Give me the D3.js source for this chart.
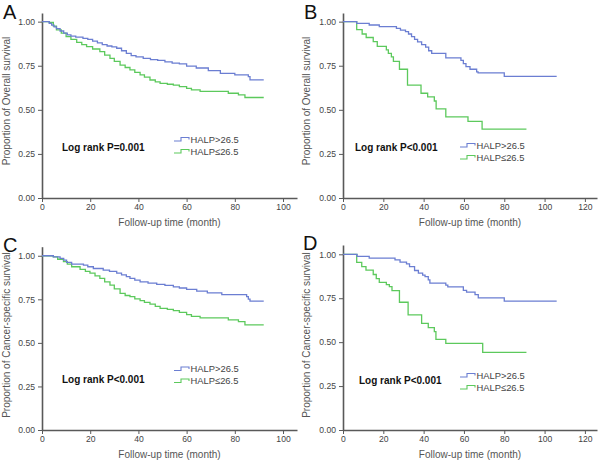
<!DOCTYPE html>
<html>
<head>
<meta charset="utf-8">
<script src="https://cdn.jsdelivr.net/npm/d3@7"></script>
<style>
  body { margin: 0; background: #fff; }
  svg { display: block; }
</style>
</head>
<body>
<svg id="chart" width="600" height="467"></svg>
<script>
// ---- data: [month, survival proportion] ----
var osHigh = [[0,1],[3,0.99],[4,0.98],[5,0.97],[6,0.96],[7.5,0.947],[9,0.935],[10.5,0.925],[12,0.918],[14,0.912],[17,0.905],[19,0.9],[21,0.89],[23,0.88],[25,0.87],[27,0.862],[29,0.857],[31,0.849],[33,0.835],[35,0.82],[37,0.807],[39,0.8],[42,0.792],[45,0.785],[48,0.78],[51,0.772],[54,0.765],[57,0.76],[60,0.748],[64,0.737],[69,0.722],[74,0.707],[80,0.698],[85.6,0.688],[86.3,0.67],[92,0.67]];
var osLow = [[0,1],[3,0.995],[4.7,0.975],[6,0.953],[8,0.935],[10,0.915],[12,0.9],[14.4,0.883],[16.5,0.87],[18.5,0.858],[21,0.845],[24,0.83],[26,0.81],[28.2,0.792],[30,0.775],[32.4,0.754],[34.5,0.74],[36.5,0.726],[38.5,0.712],[40.7,0.698],[42.5,0.685],[44.8,0.669],[47,0.658],[49,0.65],[52,0.645],[54.5,0.64],[57,0.632],[60,0.622],[62,0.613],[65.6,0.605],[77.3,0.594],[81.5,0.585],[84.2,0.57],[92,0.57]];

var osHighB = [[0,1],[6.8,0.99],[13,0.981],[18,0.972],[26.5,0.962],[28.5,0.952],[31,0.943],[32.5,0.93],[34,0.915],[35.5,0.9],[37,0.885],[39,0.87],[41,0.855],[42.5,0.835],[44,0.82],[51,0.795],[58.5,0.78],[59.7,0.762],[61,0.745],[63,0.73],[66.3,0.715],[67,0.71],[80,0.69],[106,0.69]];
var osLowB = [[0,1],[6.8,0.955],[9.5,0.93],[11.5,0.91],[15,0.887],[17,0.86],[21.5,0.84],[22.5,0.82],[24,0.8],[25,0.775],[28,0.73],[32,0.64],[38.7,0.594],[42,0.573],[45.3,0.55],[46.2,0.505],[51,0.46],[62,0.435],[69,0.39],[91,0.39]];

var cssHigh = [[0,1],[4.7,0.994],[7.5,0.985],[9,0.975],[10.2,0.962],[12.3,0.952],[17.2,0.946],[19,0.937],[21.3,0.927],[25.4,0.918],[28,0.91],[31,0.9],[33,0.89],[35,0.88],[36.5,0.87],[38.5,0.86],[40.7,0.85],[44,0.843],[47.6,0.836],[51,0.83],[54.5,0.822],[57,0.815],[60,0.807],[64.2,0.797],[68.6,0.787],[74.6,0.777],[84.9,0.765],[85.6,0.751],[86.3,0.74],[92,0.74]];
var cssLow = [[0,1],[4.7,0.994],[6.5,0.98],[8.9,0.966],[10.5,0.952],[12.3,0.937],[15.8,0.922],[18,0.91],[19.9,0.9],[22,0.885],[24,0.87],[26,0.85],[28.2,0.832],[30,0.81],[32.4,0.784],[34.5,0.772],[36.5,0.765],[38.5,0.752],[40.7,0.742],[42.5,0.732],[44.8,0.723],[47,0.71],[49,0.698],[52,0.692],[54.5,0.685],[57,0.675],[60,0.662],[62,0.652],[65.6,0.643],[77.3,0.632],[81.5,0.622],[84.2,0.603],[92,0.603]];

var cssHighD = [[0,1],[7,0.988],[13,0.978],[25.8,0.968],[28.3,0.955],[31.5,0.945],[33,0.93],[35.5,0.908],[37.4,0.893],[39.5,0.882],[40.7,0.873],[42.3,0.854],[43.1,0.836],[51,0.825],[52,0.815],[59.7,0.795],[61.3,0.785],[65.5,0.77],[67.1,0.752],[80,0.733],[106,0.733]];
var cssLowD = [[0,1],[6.8,0.954],[9.3,0.93],[11.4,0.91],[15,0.885],[16.5,0.862],[18,0.84],[21.5,0.827],[23,0.816],[24.3,0.793],[28,0.727],[32.3,0.655],[39,0.607],[42.3,0.583],[45.3,0.56],[46.1,0.516],[51,0.493],[69.3,0.442],[91,0.442]];

var xTicks100 = [0, 20, 40, 60, 80, 100];
var xTicks120 = [0, 20, 40, 60, 80, 100, 120];
var yTicks = [0, 0.25, 0.5, 0.75, 1];
var groupNames = ["HALP>26.5", "HALP\u226426.5"];
var pValues = ["Log rank P=0.001", "Log rank P<0.001", "Log rank P<0.001", "Log rank P<0.001"];

var colHigh = "#6b7ed2", colLow = "#5cc95c";
var axisCol = "#595959";
var font = "'Liberation Sans', Arial, sans-serif";

var svg = d3.select("#chart");

// panel layout (pixel boxes)
var panels = [
  { letter: "A", lx: 3, ly: 18.5, x0: 42, x1: 297, xMax: 105.8, xTicks: xTicks100, y0: 198, y1: 13, yMax: 1.049,
    ytitle: "Proportion of Overall survival", ytx: 10, yty: 101, xty: 226,
    high: osHigh, low: osLow, p: pValues[0], px: 62, py: 150.5, legx: 174, legy: 142.5 },
  { letter: "B", lx: 304, ly: 18.5, x0: 343, x1: 597, xMax: 126, xTicks: xTicks120, y0: 198, y1: 13, yMax: 1.049,
    ytitle: "Proportion of Overall survival", ytx: 310, yty: 101, xty: 226,
    high: osHighB, low: osLowB, p: pValues[1], px: 355, py: 150.5, legx: 460, legy: 148.5 },
  { letter: "C", lx: 3, ly: 251.5, x0: 42, x1: 297, xMax: 105.8, xTicks: xTicks100, y0: 430, y1: 246.7, yMax: 1.052,
    ytitle: "Proportion of Cancer-specific survival", ytx: 10, yty: 335, xty: 458,
    high: cssHigh, low: cssLow, p: pValues[2], px: 62, py: 382.5, legx: 174, legy: 372 },
  { letter: "D", lx: 303, ly: 250, x0: 343, x1: 597, xMax: 126, xTicks: xTicks120, y0: 430, y1: 245, yMax: 1.053,
    ytitle: "Proportion of Cancer-specific survival", ytx: 310, yty: 335, xty: 458,
    high: cssHighD, low: cssLowD, p: pValues[3], px: 359, py: 384, legx: 460, legy: 378.5 }
];

panels.forEach(function(c) {
  var x = d3.scaleLinear().domain([0, c.xMax]).range([c.x0, c.x1]);
  var y = d3.scaleLinear().domain([0, c.yMax]).range([c.y0, c.y1]);
  var g = svg.append("g");

  // axes
  var gx = g.append("g").attr("transform", "translate(0," + c.y0 + ")")
    .call(d3.axisBottom(x).tickValues(c.xTicks).tickSize(4).tickSizeOuter(0).tickPadding(2)
      .tickFormat(d3.format("d")));
  var gy = g.append("g").attr("transform", "translate(" + c.x0 + ",0)")
    .call(d3.axisLeft(y).tickValues(yTicks).tickSize(4).tickSizeOuter(0).tickPadding(3)
      .tickFormat(d3.format(".2f")));
  [gx, gy].forEach(function(a) {
    a.select(".domain").attr("stroke", axisCol).attr("stroke-width", 1.6);
    a.selectAll(".tick line").attr("stroke", axisCol).attr("stroke-width", 1);
    a.selectAll(".tick text").attr("fill", "#444").style("font-family", font).style("font-size", "8.6px");
  });

  // titles
  g.append("text").attr("x", (c.x0 + c.x1) / 2).attr("y", c.xty)
    .attr("text-anchor", "middle").attr("fill", "#555")
    .style("font-family", font).style("font-size", "10px")
    .text("Follow-up time (month)");
  g.append("text").attr("transform", "translate(" + c.ytx + "," + c.yty + ") rotate(-90)")
    .attr("text-anchor", "middle").attr("fill", "#555")
    .style("font-family", font).style("font-size", "10px")
    .text(c.ytitle);
  g.append("text").attr("x", c.lx).attr("y", c.ly).attr("fill", "#111")
    .style("font-family", font).style("font-size", "20px")
    .text(c.letter);

  // survival curves
  var line = d3.line().curve(d3.curveStepAfter)
    .x(function(d) { return x(d[0]); })
    .y(function(d) { return y(d[1]); });
  g.append("path").datum(c.low).attr("d", line)
    .attr("fill", "none").attr("stroke", colLow).attr("stroke-width", 1.3);
  g.append("path").datum(c.high).attr("d", line)
    .attr("fill", "none").attr("stroke", colHigh).attr("stroke-width", 1.3);

  // log rank text
  g.append("text").attr("x", c.px).attr("y", c.py).attr("fill", "#111")
    .style("font-family", font).style("font-size", "10px").style("font-weight", "bold")
    .text(c.p);

  // legend
  [colHigh, colLow].forEach(function(col, i) {
    var ly = c.legy + i * 12;
    var sx = c.legx;
    g.append("path")
      .attr("d", "M" + sx + "," + (ly - 1.5) + "H" + (sx + 7) + "V" + (ly - 5) + "H" + (sx + 15) + "V" + (ly - 3))
      .attr("fill", "none").attr("stroke", col).attr("stroke-width", 1.1);
    g.append("text").attr("x", sx + 16.5).attr("y", ly).attr("fill", "#444")
      .style("font-family", font).style("font-size", "9.4px")
      .text(groupNames[i]);
  });
});
</script>
</body>
</html>
